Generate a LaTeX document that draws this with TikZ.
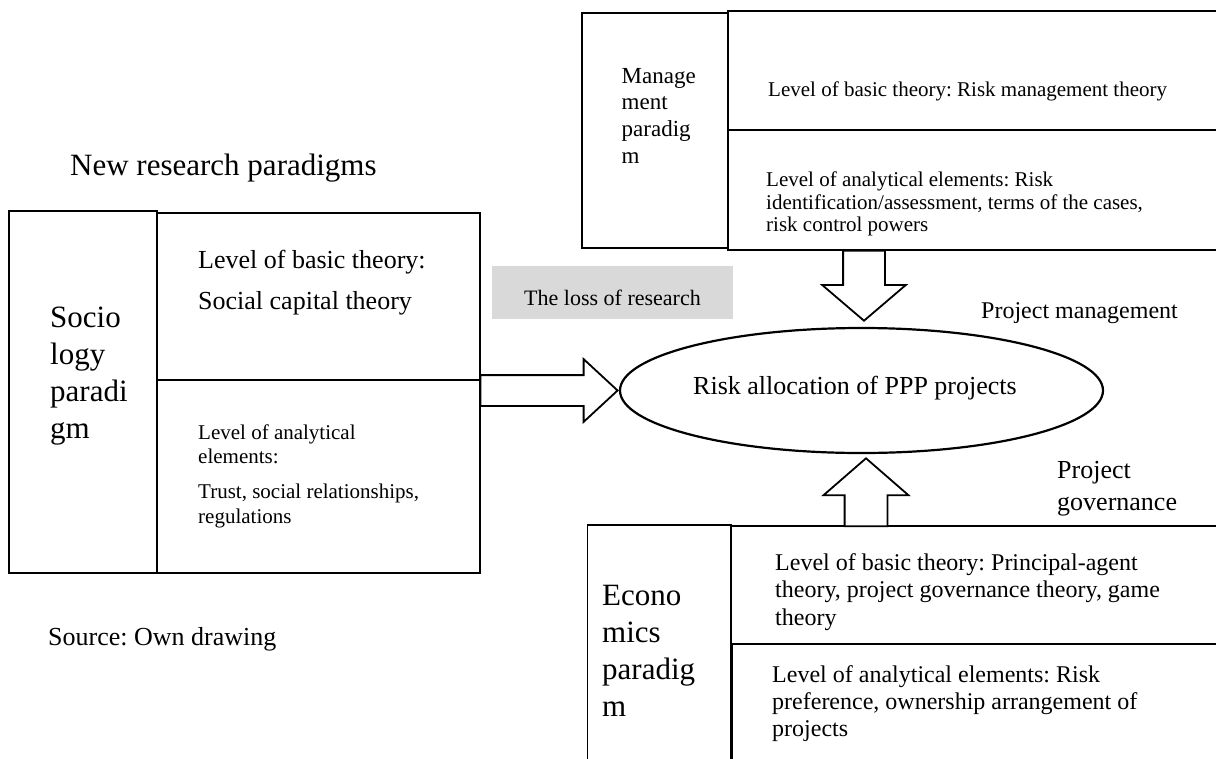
\documentclass[tikz,border=0pt]{standalone}
\usepackage{fontspec}
\setmainfont{Liberation Serif}
\frenchspacing
\usetikzlibrary{shapes.geometric,shapes.arrows,calc}
\begin{document}
\begin{tikzpicture}[x=1pt,y=-1pt,
  frame/.style={draw, line width=1.8pt, inner sep=0pt, anchor=north west},
  % multi-line labels are placed by the baseline of their last line
  lbl/.style={inner sep=0pt, anchor=base west, align=left},
  fA/.style={font=\fontsize{21}{22.5}\selectfont},
  fB/.style={font=\fontsize{24}{27.5}\selectfont},
  fC/.style={font=\fontsize{26}{41}\selectfont},
  fD/.style={font=\fontsize{31}{37}\selectfont},
  blockarrow/.style={single arrow, draw, line width=1.8pt, fill=white,
    inner xsep=0pt, line join=miter, anchor=tip}]
\useasboundingbox (0,0) rectangle (1216,758);
\clip (0,0) rectangle (1216,758);

% heading and source note
\node[lbl, font=\fontsize{31}{37}\selectfont] (head) at (70,175) {New research paradigms};
\node[lbl, font=\fontsize{26}{30}\selectfont] (src) at (48,645) {Source: Own drawing};

% sociology paradigm
\node[frame, minimum width=148, minimum height=362] (socL) at (8,210) {};
\node[frame, minimum width=323, minimum height=167] (socT) at (156,212) {};
\node[frame, minimum width=323, minimum height=193] (socB) at (156,379) {};
\node[lbl, fD] (socLt) at (50,438) {Socio\\logy\\paradi\\gm};
\node[lbl, fC] (socTt) at (198,309.3) {Level of basic theory:\\Social capital theory};
\node[lbl, font=\fontsize{21}{23.5}\selectfont] (socBt1) at (198,463.3) {Level of analytical\\elements:};
\node[lbl, font=\fontsize{21}{25}\selectfont] (socBt2) at (198,523.3) {Trust, social relationships,\\regulations};

% management paradigm
\node[frame, minimum width=146, minimum height=235] (mgL) at (581,12) {};
\node[frame, minimum width=513, minimum height=119] (mgT) at (727,10) {};
\node[frame, minimum width=513, minimum height=120] (mgB) at (727,129) {};
\node[lbl, font=\fontsize{23}{26.7}\selectfont] (mgLt) at (621.5,163.3) {Manage\\ment\\paradig\\m};
\node[lbl, fA] (mgTt) at (768,96.7) {Level of basic theory: Risk management theory};
\node[lbl, fA] (mgBt) at (766,231.7) {Level of analytical elements: Risk\\identification/assessment, terms of the cases,\\risk control powers};

% economics paradigm
\node[frame, minimum width=143.5, minimum height=256] (ecL) at (586.5,524) {};
\node[frame, minimum width=510, minimum height=118] (ecT) at (730,525) {};
\node[frame, minimum width=508.5, minimum height=137] (ecB) at (731.5,643) {};
\node[lbl, fD] (ecLt) at (602,716.7) {Econo\\mics\\paradig\\m};
\node[lbl, fB] (ecTt) at (775,625) {Level of basic theory: Principal-agent\\theory, project governance theory, game\\theory};
\node[lbl, font=\fontsize{24}{27}\selectfont] (ecBt) at (772,736.7) {Level of analytical elements: Risk\\preference, ownership arrangement of\\projects};

% the research gap
\node[fill=gray!30, inner sep=0pt, anchor=north west, minimum width=241, minimum height=53] (loss) at (492,266) {};
\node[inner sep=0pt, anchor=base, font=\fontsize{22}{26}\selectfont] (losst) at (612.5,305) {The loss of research};

% central object
\node[draw, ellipse, line width=2.2pt, minimum width=483, minimum height=125, inner sep=0pt] (ell) at (861.5,390.5) {};
\node[inner sep=0pt, anchor=base, font=\fontsize{26}{30}\selectfont] (ellt) at (855,394) {Risk allocation of PPP projects};

% side labels
\node[lbl, fB] (pm) at (981,318.3) {Project management};
\node[lbl, font=\fontsize{26}{31.7}\selectfont] (pg) at (1057,510) {Project\\governance};

% block arrows towards the central object, placed by their tips
\node[blockarrow, inner ysep=14.5pt, minimum height=137, single arrow head extend=16pt,
  single arrow tip angle=85.5] (arrR) at (ell.west) {};
\node[blockarrow, rotate=-90, inner ysep=20pt, minimum height=70, single arrow head extend=21pt,
  single arrow tip angle=99] (arrD) at ($(ell.north)+(2.5,-5)$) {};
\node[blockarrow, rotate=90, inner ysep=20.5pt, minimum height=68, single arrow head extend=21pt,
  single arrow tip angle=98] (arrU) at ($(ell.south)+(4.5,3)$) {};
\end{tikzpicture}
\end{document}
